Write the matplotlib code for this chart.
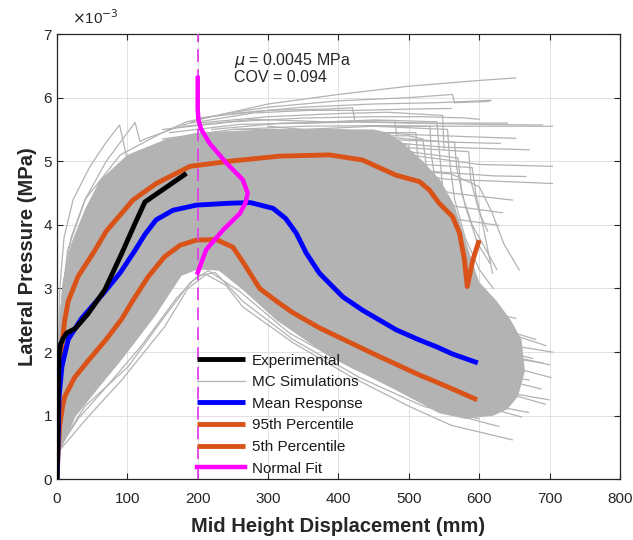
import matplotlib

matplotlib.use("Agg")
import matplotlib.pyplot as plt

plt.rcParams["font.family"] = ["Liberation Sans", "DejaVu Sans"]

# displacement in mm, pressure in units of 1e-3 MPa
exp_x = [0, 1, 2, 3, 5, 9, 14, 26, 44, 68, 92, 110, 125, 184]
exp_y = [0, 0.5, 1.5, 1.95, 2.12, 2.22, 2.3, 2.37, 2.6, 2.98, 3.55, 4.0, 4.36, 4.81]

mean_x = [0, 1, 3, 7, 16, 35, 68, 90, 111, 125, 141, 165, 198, 245, 275, 307, 325,
          340, 354, 373, 406, 434, 482, 515, 540, 562, 598]
mean_y = [0, 0.3, 1.3, 1.77, 2.2, 2.53, 2.95, 3.25, 3.6, 3.85, 4.08, 4.23, 4.31, 4.34,
          4.35, 4.26, 4.1, 3.87, 3.56, 3.24, 2.87, 2.66, 2.35, 2.19, 2.08, 1.97, 1.83]

p95_x = [0, 2, 4, 7, 11, 16, 30, 54, 70, 108, 141, 189, 245, 316, 387, 434, 482, 515,
         529, 543, 562, 572, 579, 583, 591, 600]
p95_y = [0, 1.2, 1.8, 2.1, 2.5, 2.8, 3.19, 3.6, 3.9, 4.39, 4.65, 4.92, 5.0, 5.08, 5.1,
         5.02, 4.78, 4.68, 4.55, 4.34, 4.13, 3.87, 3.45, 3.03, 3.45, 3.76]

p05_x = [0, 2, 4, 8, 11, 25, 44, 70, 92, 110, 130, 153, 175, 198, 226, 250, 264, 288,
         312, 335, 373, 458, 515, 539, 562, 597]
p05_y = [0, 0.5, 0.85, 1.15, 1.3, 1.6, 1.86, 2.2, 2.52, 2.85, 3.19, 3.5, 3.68, 3.76,
         3.77, 3.65, 3.42, 3.0, 2.8, 2.62, 2.38, 1.93, 1.64, 1.53, 1.42, 1.25]

fit_x = [200, 200, 201, 205, 217, 241, 264, 271, 268, 260, 236, 212, 203, 200]
fit_y = [6.31, 5.81, 5.65, 5.5, 5.28, 4.97, 4.71, 4.5, 4.35, 4.18, 3.92, 3.61, 3.34, 3.25]

fit_mean_x = 200

# dense core of the Monte Carlo curves: upper edge left->right, lower edge right->left
mc_core_upper = [(0, 0), (1, 1.5), (3, 2.4), (8, 3.1), (20, 3.7), (40, 4.25), (61, 4.7),
                 (100, 5.1), (156, 5.35), (200, 5.45), (300, 5.5), (450, 5.5), (470, 5.45),
                 (490, 5.3), (520, 5.0), (545, 4.7), (565, 4.3), (585, 3.6), (600, 3.1),
                 (625, 2.8), (645, 2.5), (660, 2.2)]
mc_core_lower = [(665, 1.7), (655, 1.3), (640, 1.1), (620, 1.0), (580, 0.95), (543, 1.04),
                 (482, 1.4), (387, 1.93), (312, 2.5), (264, 2.98), (230, 3.28), (200, 3.3),
                 (177, 3.2), (139, 2.56), (92, 1.88), (60, 1.45), (26, 0.98), (5, 0.45), (0, 0)]

# individual simulations that stick out of the core
mc_spike_curves = [
    [(0, 0), (2, 2.0), (4, 3.0), (10, 3.8), (23, 4.4), (47, 4.92), (70, 5.3), (89, 5.57),
     (101, 4.97), (130, 5.05), (170, 5.25)],
    [(0, 0), (3, 2.2), (8, 3.0), (20, 3.8), (40, 4.4), (70, 5.0), (111, 5.61), (118, 5.31),
     (125, 5.35), (150, 5.45), (184, 5.62), (240, 5.75), (300, 5.85), (400, 5.95),
     (500, 6.0), (562, 6.05), (565, 5.92), (614, 5.94)],
]
mc_top_curves = [
    [(0, 0), (4, 2.5), (15, 3.6), (40, 4.4), (90, 5.1), (150, 5.45), (200, 5.65), (300, 5.9),
     (400, 6.05), (500, 6.18), (600, 6.27), (652, 6.31)],
    [(150, 5.35), (250, 5.5), (350, 5.55), (450, 5.56), (550, 5.55), (704, 5.55)],
    [(250, 5.5), (400, 5.5), (500, 5.42), (600, 5.38), (652, 5.36)],
    [(300, 5.45), (450, 5.32), (550, 5.22), (671, 5.18)],
    [(350, 5.35), (500, 5.1), (600, 4.95), (704, 4.92)],
    [(400, 5.15), (520, 4.85), (620, 4.77), (666, 4.76)],
    [(450, 4.95), (550, 4.72), (704, 4.65)],
    [(460, 4.85), (560, 4.5), (647, 4.39)],
    [(470, 4.65), (560, 4.3), (633, 4.19)],
    [(480, 4.5), (560, 4.1), (628, 3.99)],
    [(200, 5.6), (300, 5.7), (400, 5.75), (470, 5.77), (548, 5.72), (550, 5.2)],
    [(250, 5.75), (350, 5.85), (450, 5.9), (540, 5.92), (600, 5.95), (617, 5.96)],
    [(150, 5.5), (250, 5.62), (350, 5.68), (450, 5.7), (520, 5.7), (580, 5.68), (600, 5.66)],
    [(180, 5.55), (280, 5.66), (380, 5.62), (460, 5.64), (480, 5.64), (483, 5.4)],
    [(160, 5.45), (260, 5.58), (360, 5.6), (440, 5.62), (530, 5.6), (640, 5.6)],
    [(200, 5.68), (300, 5.8), (380, 5.82), (420, 5.84), (423, 5.65)],
    [(190, 5.6), (280, 5.76), (360, 5.8), (430, 5.8), (500, 5.82), (560, 5.83)],
    [(220, 5.5), (320, 5.6), (420, 5.62), (500, 5.6), (600, 5.58), (690, 5.57)],
    [(300, 5.55), (400, 5.45), (500, 5.35), (560, 5.3), (630, 5.28)],
]
mc_drop_curves = [
    [(350, 5.6), (450, 5.65), (540, 5.62), (543, 5.2), (548, 4.6), (560, 4.0), (580, 3.4),
     (600, 3.0)],
    [(350, 5.5), (450, 5.55), (555, 5.5), (558, 5.0), (565, 4.4), (580, 3.8), (600, 3.3),
     (620, 3.0)],
    [(400, 5.2), (500, 5.15), (570, 5.05), (575, 4.5), (590, 4.0), (610, 3.6), (625, 3.3)],
    [(450, 4.9), (560, 4.8), (600, 4.6), (618, 4.2), (635, 3.7), (657, 3.29)],
    [(400, 5.3), (480, 5.3), (500, 5.25), (505, 4.8), (515, 4.2), (530, 3.6), (545, 3.1)],
    [(420, 5.4), (500, 5.4), (520, 5.35), (525, 4.9), (535, 4.3), (550, 3.8), (570, 3.3)],
    [(450, 5.0), (590, 4.9), (595, 4.5), (605, 4.0), (619, 3.24)],
    [(450, 5.55), (530, 5.55), (532, 5.1), (540, 4.5), (552, 4.0), (568, 3.5), (590, 3.0)],
    [(450, 5.45), (510, 5.45), (513, 5.0), (522, 4.4), (538, 3.8), (556, 3.3)],
    [(450, 5.35), (565, 5.3), (568, 4.9), (580, 4.3), (598, 3.7), (615, 3.4)],
    [(450, 5.25), (585, 5.15), (588, 4.7), (600, 4.2), (612, 3.9)],
]
mc_low_curves = [
    [(0, 0), (4, 0.46), (44, 0.98), (92, 1.56), (153, 2.4), (186, 3.0), (212, 3.22),
     (240, 3.05), (264, 2.71), (335, 2.15), (420, 1.6), (500, 1.15), (560, 0.85), (647, 0.62)],
    [(0, 0), (4, 0.5), (30, 0.95), (70, 1.45), (120, 2.1), (170, 2.85), (200, 3.2),
     (225, 3.25), (264, 2.8), (335, 2.2), (430, 1.6), (520, 1.15), (628, 0.83)],
    [(0, 0), (5, 0.55), (40, 1.15), (101, 1.77), (153, 2.56), (190, 3.1), (215, 3.28),
     (260, 2.95), (330, 2.3), (420, 1.75), (500, 1.35), (543, 1.1), (600, 0.95)],
]
mc_tail_curves = [
    [(500, 2.9), (600, 2.65), (652, 2.53)],
    [(520, 2.5), (620, 2.15), (704, 2.0)],
    [(520, 2.3), (620, 1.95), (690, 1.83)],
    [(520, 1.95), (620, 1.65), (671, 1.56)],
    [(520, 1.7), (620, 1.4), (699, 1.25)],
    [(540, 2.7), (620, 2.4), (680, 2.2)],
    [(540, 2.2), (640, 1.95), (700, 1.8)],
    [(520, 1.5), (600, 1.2), (670, 1.05)],
    [(560, 2.6), (640, 2.3), (695, 2.1)],
    [(560, 2.05), (640, 1.78), (702, 1.6)],
    [(560, 1.85), (640, 1.55), (688, 1.42)],
    [(560, 1.6), (640, 1.35), (694, 1.18)],
    [(540, 2.45), (620, 2.05), (676, 1.9)],
    [(540, 1.35), (620, 1.1), (660, 0.98)],
]

x_ticks = list(range(0, 801, 100))
y_ticks = list(range(0, 8))

GRAY = "#b3b3b3"
ORANGE = "#d95319"
AX_COLOR = "#262626"

fig = plt.figure(figsize=(6.33, 5.4), dpi=100)
ax = fig.add_axes([0.090, 0.1124, 0.8894, 0.8246])

core = mc_core_upper + mc_core_lower
ax.fill([p[0] for p in core], [p[1] for p in core], color=GRAY, lw=0, zorder=2)

mc_handle = None
for group in (mc_spike_curves, mc_top_curves, mc_drop_curves, mc_low_curves, mc_tail_curves):
    for curve in group:
        xs, ys = zip(*curve)
        (line,) = ax.plot(xs, ys, color=GRAY, lw=0.9, zorder=2)
        if mc_handle is None:
            mc_handle = line

h_p05, = ax.plot(p05_x, p05_y, color=ORANGE, lw=3.5, solid_capstyle="butt", zorder=3)
h_p95, = ax.plot(p95_x, p95_y, color=ORANGE, lw=3.5, solid_capstyle="butt", zorder=3)
h_mean, = ax.plot(mean_x, mean_y, color="#0000ff", lw=3.5, solid_capstyle="butt", zorder=4)
h_exp, = ax.plot(exp_x, exp_y, color="black", lw=3.5, solid_capstyle="butt", zorder=5)
ax.plot([fit_mean_x, fit_mean_x], [0, 7], color="#e040e8", lw=1.3, dashes=(7, 4), zorder=6)
h_fit, = ax.plot(fit_x, fit_y, color="#ff00ff", lw=3.2, zorder=6)

ax.text(251, 6.59, r"$\mu$ = 0.0045 MPa", fontsize=11.5, va="center", ha="left", color=AX_COLOR)
ax.text(251, 6.31, "COV = 0.094", fontsize=11.5, va="center", ha="left", color=AX_COLOR)
ax.text(0.027, 1.036, r"$\times$10$^{-3}$", transform=ax.transAxes, fontsize=11,
        va="center", ha="left", color=AX_COLOR)

ax.set_xlim(0, 800)
ax.set_ylim(0, 7)
ax.set_xticks(x_ticks)
ax.set_yticks(y_ticks)
ax.grid(True, color="#dcdcdc", lw=0.6)
ax.set_axisbelow(True)
ax.tick_params(direction="in", top=True, right=True, length=4, labelsize=11,
               colors=AX_COLOR, width=0.8)
ax.tick_params(axis="x", pad=9)
for spine in ax.spines.values():
    spine.set_color(AX_COLOR)
    spine.set_linewidth(0.9)

ax.set_xlabel("Mid Height Displacement (mm)", fontsize=14.5, fontweight="bold",
              color=AX_COLOR, labelpad=8)
ax.set_ylabel("Lateral Pressure (MPa)", fontsize=14.5, fontweight="bold",
              color=AX_COLOR, labelpad=5)

leg = ax.legend([h_exp, mc_handle, h_mean, h_p95, h_p05, h_fit],
                ["Experimental", "MC Simulations", "Mean Response", "95th Percentile",
                 "5th Percentile", "Normal Fit"],
                loc="lower left", bbox_to_anchor=(0.249, 0.008), borderaxespad=0,
                borderpad=0, frameon=False, fontsize=11, handlelength=3.1,
                handletextpad=0.5, labelspacing=0.5)
for t in leg.get_texts():
    t.set_color("#1a1a1a")
leg.set_zorder(7)

fig.savefig("out.png", dpi=100)
